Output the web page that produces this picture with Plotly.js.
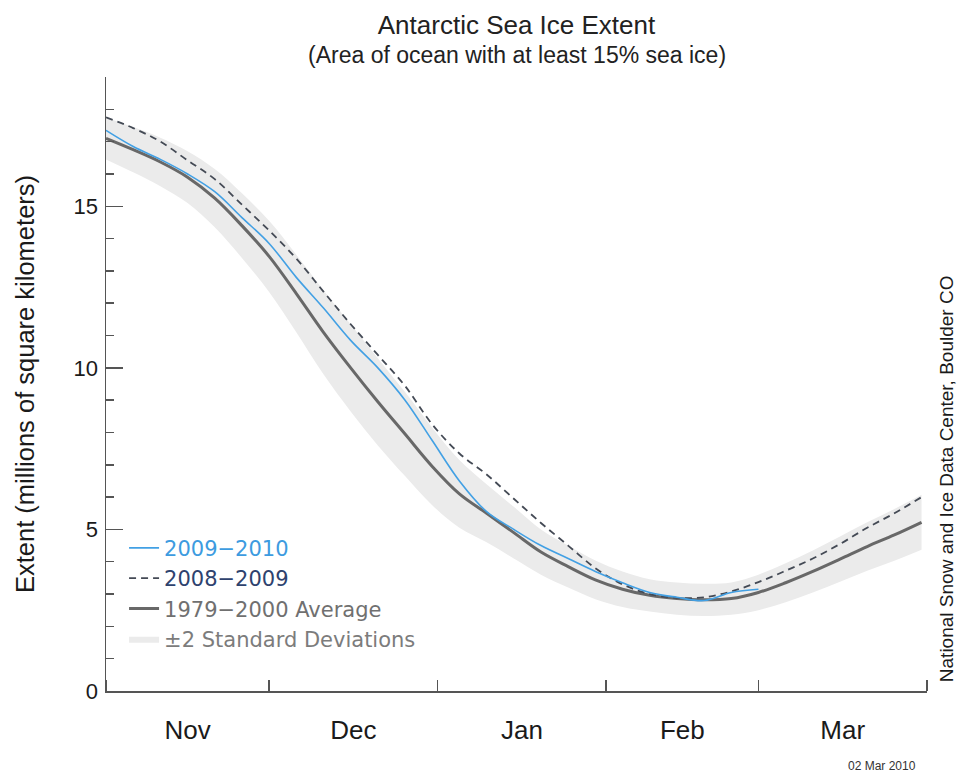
<!DOCTYPE html>
<html>
<head>
<meta charset="utf-8">
<script src="https://cdn.plot.ly/plotly-3.0.1.min.js"></script>
<style>html,body{margin:0;padding:0;background:#fff;}#chart{width:960px;height:774px;}</style>
</head>
<body>
<div id="chart"></div>
<script>
// Sample dates (every 5 days, 1 Nov – 31 Mar)
const dates = ["2009-11-01","2009-11-06","2009-11-11","2009-11-16","2009-11-21","2009-11-26",
  "2009-12-01","2009-12-06","2009-12-11","2009-12-16","2009-12-21","2009-12-26","2009-12-31",
  "2010-01-05","2010-01-10","2010-01-15","2010-01-20","2010-01-25","2010-01-30",
  "2010-02-04","2010-02-09","2010-02-14","2010-02-19","2010-02-24","2010-03-01",
  "2010-03-06","2010-03-11","2010-03-16","2010-03-21","2010-03-26","2010-03-31"];

// 1979–2000 average (millions of km²)
const avg1979_2000 = [17.1,16.75,16.37,15.9,15.25,14.4,13.45,12.3,11.1,10.0,8.95,7.95,6.95,
  6.1,5.5,4.9,4.3,3.85,3.44,3.15,2.96,2.86,2.82,2.86,3.05,3.35,3.7,4.08,4.47,4.83,5.22];

// ±2 standard deviation band
const stdUpper = [17.75,17.45,17.12,16.7,16.15,15.4,14.55,13.5,12.4,11.35,10.3,9.25,8.15,
  7.15,6.4,5.7,5.0,4.5,4.04,3.7,3.46,3.36,3.32,3.36,3.6,3.95,4.35,4.78,5.22,5.63,6.07];
const stdLower = [16.45,16.05,15.62,15.1,14.35,13.4,12.35,11.1,9.8,8.65,7.6,6.65,5.75,
  5.05,4.6,4.1,3.6,3.2,2.84,2.6,2.46,2.36,2.32,2.36,2.5,2.75,3.05,3.38,3.72,4.03,4.37];

// 2008–2009 season
const season2008_2009 = [17.75,17.42,17.0,16.42,15.84,15.05,14.25,13.38,12.36,11.35,10.4,9.44,8.25,
  7.35,6.7,5.95,5.2,4.5,3.8,3.3,3.0,2.88,2.9,3.08,3.37,3.72,4.1,4.55,5.05,5.5,6.0];

// 2009–2010 season (through 1 Mar)
const season2009_2010 = [17.35,16.85,16.45,16.0,15.45,14.65,13.85,12.8,11.85,10.85,10.0,9.0,7.75,
  6.5,5.55,5.0,4.5,4.1,3.7,3.35,3.05,2.9,2.8,3.05,3.15];

const names = {
  cur: '<span style="color:#3d9be0">2009\u22122010</span>',
  prev: '<span style="color:#2e426e">2008\u22122009</span>',
  avg: '<span style="color:#707070">1979\u22122000 Average</span>',
  sd: '<span style="color:#7c7c7c">\u00b12 Standard Deviations</span>'
};

const traces = [
  {x: dates, y: stdLower, type: 'scatter', mode: 'lines', line: {width: 0, color: '#ebebeb', shape: 'spline'},
   showlegend: false, hoverinfo: 'skip'},
  {x: dates, y: stdUpper, type: 'scatter', mode: 'lines', fill: 'tonexty', fillcolor: '#ebebeb',
   line: {width: 0, color: '#ebebeb', shape: 'spline'}, name: names.sd, legendrank: 4},
  {x: dates, y: avg1979_2000, type: 'scatter', mode: 'lines', line: {color: '#686868', width: 3, shape: 'spline'},
   name: names.avg, legendrank: 3},
  {x: dates, y: season2008_2009, type: 'scatter', mode: 'lines', line: {color: '#444a55', width: 1.8, dash: '7px,5px', shape: 'spline'},
   name: names.prev, legendrank: 2},
  {x: dates.slice(0, season2009_2010.length), y: season2009_2010, type: 'scatter', mode: 'lines',
   line: {color: '#42a0e4', width: 1.6, shape: 'spline'}, name: names.cur, legendrank: 1}
];

const font = 'Liberation Sans, Arial, Helvetica, sans-serif';
const nb = '\u00a0';

const layout = {
  width: 960, height: 774,
  margin: {l: 106, r: 33, t: 77, b: 83},
  paper_bgcolor: '#ffffff', plot_bgcolor: '#ffffff',
  font: {family: font, color: '#1a1a1a'},
  title: {text: 'Antarctic Sea Ice Extent', font: {size: 26, color: '#222'},
          x: 0.5, xanchor: 'center', xref: 'paper', y: 0.968, yanchor: 'middle', yref: 'container'},
  showlegend: true,
  legend: {x: 0.022, y: 0.266, xanchor: 'left', yanchor: 'top', bgcolor: 'rgba(0,0,0,0)',
           traceorder: 'normal',
           font: {size: 21, family: 'DejaVu Sans, sans-serif', color: '#777'}, tracegroupgap: 0, itemwidth: 30},
  xaxis: {
    type: 'date', range: ['2009-11-01', '2010-04-01'],
    tick0: '2009-11-01', dtick: 'M1', tickformat: '%b', ticklabelmode: 'period',
    ticks: 'inside', ticklen: 11, tickwidth: 1.5, tickcolor: '#555',
    showline: true, linecolor: '#555', linewidth: 1.5, showgrid: false, zeroline: false,
    tickfont: {size: 26, color: '#1a1a1a'}, ticklabelstandoff: 15, fixedrange: true
  },
  yaxis: {
    range: [0, 19], tickvals: [0, 5, 10, 15], ticktext: ['0', '5', '10', '15'],
    ticks: 'inside', ticklen: 17, tickwidth: 1.5, tickcolor: '#555',
    minor: {dtick: 1, tick0: 0, ticks: 'inside', ticklen: 8, tickwidth: 1.5, tickcolor: '#555', showgrid: false},
    showline: true, linecolor: '#555', linewidth: 1.5, showgrid: false, zeroline: false,
    tickfont: {size: 22, color: '#1a1a1a'}, ticklabelstandoff: 2,
    title: {text: 'Extent (millions of square kilometers)' + nb.repeat(9), font: {size: 25.5, color: '#1a1a1a'}, standoff: 31},
    fixedrange: true
  },
  annotations: [
    {text: '(Area of ocean with at least 15% sea ice)', xref: 'paper', yref: 'paper',
     x: 0.5, y: 1, xanchor: 'center', yanchor: 'middle', yshift: 22, showarrow: false,
     font: {size: 23, color: '#222'}},
    {text: 'National Snow and Ice Data Center, Boulder CO', xref: 'paper', yref: 'paper',
     x: 1, y: 0.345, xanchor: 'center', yanchor: 'middle', xshift: 19, showarrow: false, textangle: -90,
     font: {size: 19, color: '#1a1a1a'}},
    {text: '02 Mar 2010', xref: 'paper', yref: 'paper', x: 0.945, y: 0, xanchor: 'center', yanchor: 'middle',
     yshift: -75, showarrow: false, font: {size: 12, color: '#333'}}
  ]
};

Plotly.newPlot('chart', traces, layout, {displayModeBar: false, staticPlot: true});
</script>
</body>
</html>
